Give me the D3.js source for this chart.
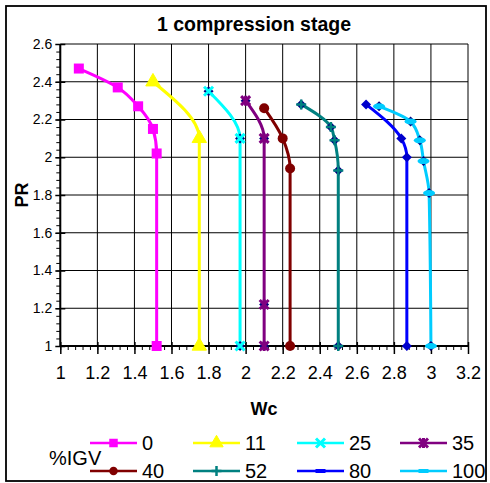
<!DOCTYPE html>
<html>
<head>
<meta charset="utf-8">
<script src="https://cdn.jsdelivr.net/npm/d3@7"></script>
<style>
  body { margin: 0; background: #fff; }
  text { font-family: "Liberation Sans", Arial, sans-serif; fill: #000; }
</style>
</head>
<body>
<div id="viz"></div>
<script>
var width = 490, height = 483;
var plot = {left: 60.3, right: 468, top: 44, bottom: 346};

// data: Wc (x) and PR (y) per %IGV setting
var igvLabels = ["0", "11", "25", "35", "40", "52", "80", "100"];
var wc0   = [1.10, 1.31, 1.42, 1.50, 1.52, 1.52];
var pr0   = [2.47, 2.37, 2.27, 2.15, 2.02, 1.00];
var wc11  = [1.50, 1.75, 1.75];
var pr11  = [2.40, 2.10, 1.00];
var wc25  = [1.80, 1.97, 1.97];
var pr25  = [2.35, 2.10, 1.00];
var wc35  = [2.00, 2.10, 2.10, 2.10];
var pr35  = [2.30, 2.10, 1.22, 1.00];
var wc40  = [2.10, 2.20, 2.24, 2.24];
var pr40  = [2.26, 2.10, 1.94, 1.00];
var wc52  = [2.30, 2.46, 2.48, 2.50, 2.50];
var pr52  = [2.28, 2.16, 2.09, 1.93, 1.00];
var wc80  = [2.65, 2.84, 2.87, 2.87];
var pr80  = [2.28, 2.10, 2.00, 1.00];
var wc100 = [2.72, 2.89, 2.94, 2.96, 2.99, 3.00];
var pr100 = [2.27, 2.19, 2.09, 1.98, 1.81, 1.00];

var xTicks = [1, 1.2, 1.4, 1.6, 1.8, 2, 2.2, 2.4, 2.6, 2.8, 3, 3.2];
var yTicks = [1, 1.2, 1.4, 1.6, 1.8, 2, 2.2, 2.4, 2.6];

var colors = ["#ff00ff", "#ffff00", "#00ffff", "#800080", "#800000", "#008080", "#0000ff", "#00ccff"];
var markers = ["square", "triangle", "x", "asterisk", "circle", "plus", "dash", "dash"];

var wcs = [wc0, wc11, wc25, wc35, wc40, wc52, wc80, wc100];
var prs = [pr0, pr11, pr25, pr35, pr40, pr52, pr80, pr100];

var series = igvLabels.map(function(l, i) {
  return {
    name: l, color: colors[i], marker: markers[i],
    values: wcs[i].map(function(w, j) { return {wc: w, pr: prs[i][j]}; })
  };
});

var x = d3.scaleLinear().domain([1, 3.2]).range([plot.left, plot.right]);
var y = d3.scaleLinear().domain([1, 2.6]).range([plot.bottom, plot.top]);

var svg = d3.select('#viz').append('svg')
  .attr('width', width)
  .attr('height', height);

// outer frame
svg.append('rect')
  .attr('x', 6).attr('y', 6).attr('width', 480).attr('height', 475)
  .attr('fill', '#fff').attr('stroke', '#000').attr('stroke-width', 1.8);

svg.append('text')
  .attr('x', 254).attr('y', 31)
  .attr('text-anchor', 'middle')
  .attr('font-size', 19.5).attr('font-weight', 'bold')
  .text('1 compression stage');

// grid
var grid = svg.append('g');
grid.selectAll('.vg').data(xTicks).join('line')
  .attr('x1', d => x(d)).attr('x2', d => x(d))
  .attr('y1', plot.top).attr('y2', plot.bottom)
  .attr('stroke', '#000').attr('stroke-width', 1);
grid.selectAll('.hg').data(yTicks).join('line')
  .attr('x1', plot.left).attr('x2', plot.right)
  .attr('y1', d => y(d)).attr('y2', d => y(d))
  .attr('stroke', '#000').attr('stroke-width', 1);

// axes with minor ticks
var xMinor = d3.range(1, 3.2001, 0.04);
var yMinor = d3.range(1, 2.6001, 0.04);

svg.append('g')
  .attr('transform', `translate(0,${plot.bottom})`)
  .call(d3.axisBottom(x).tickValues(xMinor).tickSize(4).tickFormat(''))
  .call(g => g.select('.domain').remove());
svg.append('g')
  .attr('transform', `translate(0,${plot.bottom + 4})`)
  .call(d3.axisBottom(x).tickValues(xTicks).tickSize(8).tickSizeOuter(0).tickFormat(d3.format('')))
  .call(g => g.select('.domain').remove())
  .call(g => g.selectAll('.tick line').attr('y1', -8).attr('y2', 4).attr('stroke-width', 1.5))
  .call(g => g.selectAll('.tick text').attr('y', 16).attr('font-size', 18)
      .attr('font-family', '"Liberation Sans", Arial, sans-serif'));

svg.append('g')
  .attr('transform', `translate(${plot.left},0)`)
  .call(d3.axisLeft(y).tickValues(yMinor).tickSize(4).tickFormat(''))
  .call(g => g.select('.domain').remove());
svg.append('g')
  .attr('transform', `translate(${plot.left},0)`)
  .call(d3.axisLeft(y).tickValues(yTicks).tickSize(5).tickSizeOuter(0).tickFormat(d3.format('')))
  .call(g => g.select('.domain').remove())
  .call(g => g.selectAll('.tick line').attr('x2', 5).attr('x1', -5).attr('stroke-width', 1.5))
  .call(g => g.selectAll('.tick text').attr('x', -8).attr('font-size', 14)
      .attr('font-family', '"Liberation Sans", Arial, sans-serif'));

// axis lines
svg.append('line').attr('x1', plot.left).attr('x2', plot.right)
  .attr('y1', plot.bottom).attr('y2', plot.bottom).attr('stroke', '#000').attr('stroke-width', 2);
svg.append('line').attr('x1', plot.left).attr('x2', plot.left)
  .attr('y1', plot.top).attr('y2', plot.bottom).attr('stroke', '#000').attr('stroke-width', 2);

// axis titles
svg.append('text')
  .attr('x', 264).attr('y', 415)
  .attr('text-anchor', 'middle')
  .attr('font-size', 18).attr('font-weight', 'bold')
  .text('Wc');
svg.append('text')
  .attr('transform', 'translate(28,195) rotate(-90)')
  .attr('text-anchor', 'middle')
  .attr('font-size', 18).attr('font-weight', 'bold')
  .text('PR');

var line = d3.line()
  .x(d => x(d.wc))
  .y(d => y(d.pr))
  .curve(d3.curveMonotoneY);

function drawMarker(g, type, color, big) {
  var s = big ? 1 : 0.85;
  if (type === 'square') {
    g.append('rect').attr('x', -5 * s).attr('y', -5 * s).attr('width', 10 * s).attr('height', 10 * s)
      .attr('fill', color);
  } else if (type === 'triangle') {
    g.append('path').attr('d', d3.symbol(d3.symbolTriangle, 90 * s)()).attr('fill', color)
      .attr('stroke', color);
  } else if (type === 'circle') {
    g.append('circle').attr('r', 5 * s).attr('fill', color);
  } else if (type === 'x') {
    g.append('path').attr('d', 'M-4.5,-4.5L4.5,4.5M-4.5,4.5L4.5,-4.5')
      .attr('stroke', color).attr('stroke-width', 3).attr('fill', 'none');
  } else if (type === 'plus') {
    g.append('path').attr('d', 'M-5,0L5,0M0,-5L0,5')
      .attr('stroke', color).attr('stroke-width', 2.5).attr('fill', 'none');
  } else if (type === 'asterisk') {
    g.append('path').attr('d', 'M-4.5,-4.5L4.5,4.5M-4.5,4.5L4.5,-4.5M0,-5L0,5')
      .attr('stroke', color).attr('stroke-width', 3).attr('fill', 'none');
  } else if (type === 'dash') {
    g.append('rect').attr('x', -5).attr('y', -2).attr('width', 10).attr('height', 4).attr('fill', color);
  }
}

// series
series.forEach(function(s) {
  var g = svg.append('g');
  g.append('path')
    .datum(s.values)
    .attr('fill', 'none')
    .attr('stroke', s.color)
    .attr('stroke-width', 3)
    .attr('d', line);
  var pts = g.selectAll('.pt').data(s.values).join('g')
    .attr('transform', d => `translate(${x(d.wc)},${y(d.pr)})`);
  pts.each(function() {
    var p = d3.select(this);
    if (s.marker === 'dash' || s.marker === 'plus' || s.marker === 'x' || s.marker === 'asterisk') {
      p.append('path').attr('d', 'M0,-5L5,0L0,5L-5,0Z')
        .attr('fill', s.name === '80' ? '#0000cc' : '#000080');
    }
    if (s.marker === 'dash' && s.name === '100') {
      p.append('ellipse').attr('rx', 6).attr('ry', 3).attr('fill', s.color);
    } else if (s.marker !== 'dash') {
      drawMarker(p, s.marker, s.color, true);
    }
  });
});

// legend
var legend = svg.append('g');
legend.append('text')
  .attr('x', 49).attr('y', 465)
  .attr('font-size', 20)
  .text('%IGV');

var colX = [90, 193, 297, 400];
var rowY = [443, 471];
series.forEach(function(s, i) {
  var lx = colX[i % 4], ly = rowY[Math.floor(i / 4)];
  var g = legend.append('g').attr('transform', `translate(${lx},${ly})`);
  g.append('line').attr('x1', 0).attr('x2', 47).attr('y1', 0).attr('y2', 0)
    .attr('stroke', s.color).attr('stroke-width', 2.5);
  var m = g.append('g').attr('transform', 'translate(23.5,0)');
  drawMarker(m, s.marker, s.color, false);
  g.append('text').attr('x', 52).attr('y', 7).attr('font-size', 20).text(s.name);
});
</script>
</body>
</html>
